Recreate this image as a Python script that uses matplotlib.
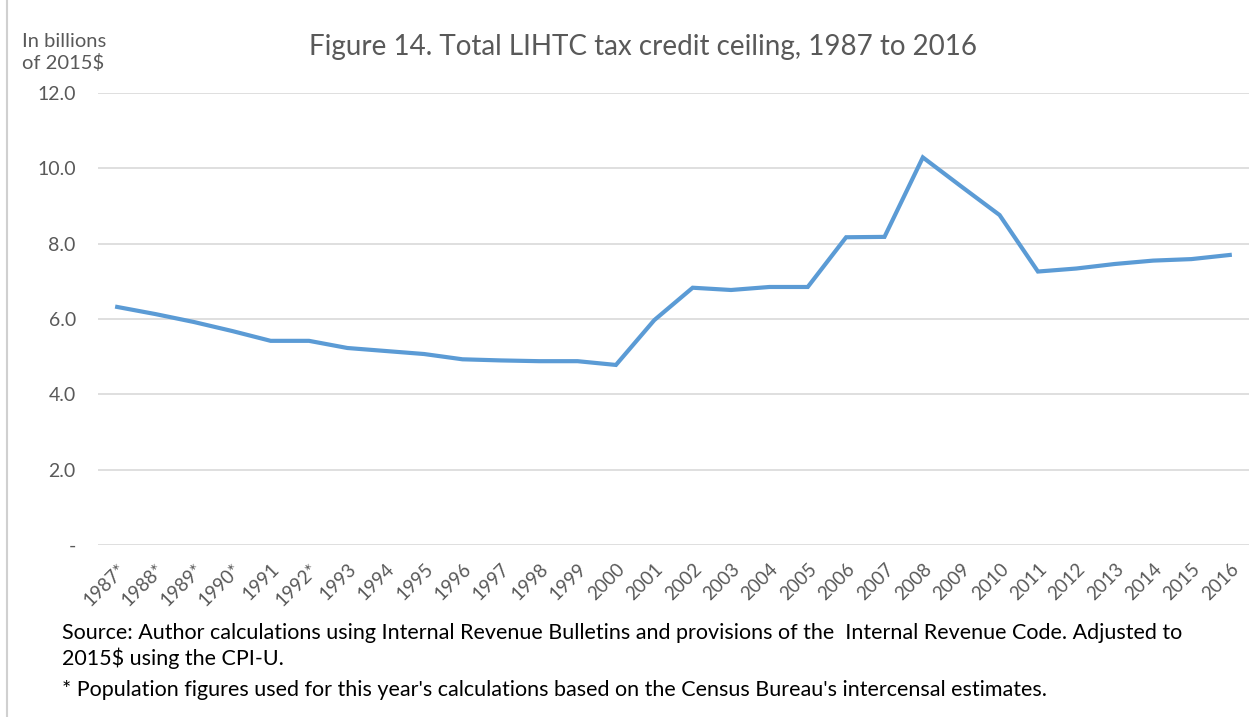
import matplotlib
matplotlib.use("Agg")
import matplotlib.pyplot as plt
from matplotlib.lines import Line2D

# data (billions of 2015$)
years = ["1987*", "1988*", "1989*", "1990*", "1991", "1992*", "1993", "1994", "1995",
         "1996", "1997", "1998", "1999", "2000", "2001", "2002", "2003", "2004", "2005",
         "2006", "2007", "2008", "2009", "2010", "2011", "2012", "2013", "2014", "2015", "2016"]
ceiling = [6.32, 6.13, 5.92, 5.68, 5.42, 5.42, 5.23, 5.15, 5.07,
           4.93, 4.90, 4.88, 4.88, 4.78, 5.97, 6.83, 6.77, 6.85, 6.85,
           8.17, 8.18, 10.29, 9.52, 8.76, 7.26, 7.34, 7.46, 7.55, 7.59, 7.70]
yticks = [0, 2, 4, 6, 8, 10, 12]
ytick_labels = ["-", "2.0", "4.0", "6.0", "8.0", "10.0", "12.0"]

plt.rcParams["font.family"] = ["Lato", "DejaVu Sans"]
gray = "#595959"

fig = plt.figure(figsize=(12.58, 7.17), dpi=100)
ax = fig.add_axes([0.0779, 0.2399, 0.9149, 0.6304])

x = list(range(len(years)))
ax.plot(x, ceiling, color="#5b9bd5", linewidth=3.0, solid_joinstyle="miter")

ax.set_xlim(-0.5, len(years) - 0.5)
ax.set_ylim(0, 12)
ax.set_yticks(yticks)
ax.set_yticklabels(ytick_labels, color=gray, fontsize=14)
ax.set_xticks(x)
ax.set_xticklabels(years, rotation=45, ha="right", rotation_mode="anchor",
                   color=gray, fontsize=13.5)
ax.tick_params(axis="both", length=0)
ax.tick_params(axis="y", pad=16)
ax.tick_params(axis="x", pad=11)
ax.grid(axis="y", color="#d9d9d9", linewidth=1.2)
ax.set_axisbelow(True)
for s in ax.spines.values():
    s.set_visible(False)

fig.text(0.511, 0.935, "Figure 14. Total LIHTC tax credit ceiling, 1987 to 2016",
         ha="center", va="center", fontsize=20, color=gray)
fig.text(0.0175, 0.927, "In billions\nof 2015$", ha="left", va="center",
         fontsize=14.5, color=gray, linespacing=1.25)

fig.text(0.049, 0.117, "Source: Author calculations using Internal Revenue Bulletins and provisions of the  Internal Revenue Code. Adjusted to",
         ha="left", va="center", fontsize=15.5, color="black")
fig.text(0.049, 0.082, "2015$ using the CPI-U.", ha="left", va="center",
         fontsize=15.5, color="black")
fig.text(0.049, 0.037, "* Population figures used for this year's calculations based on the Census Bureau's intercensal estimates.",
         ha="left", va="center", fontsize=15.5, color="black")

# thin border on the left edge as in the reference
fig.add_artist(Line2D([0.0056, 0.0056], [0, 1], transform=fig.transFigure,
                      color="#d0d0d0", linewidth=1.5))

fig.savefig("out.png", dpi=100)
